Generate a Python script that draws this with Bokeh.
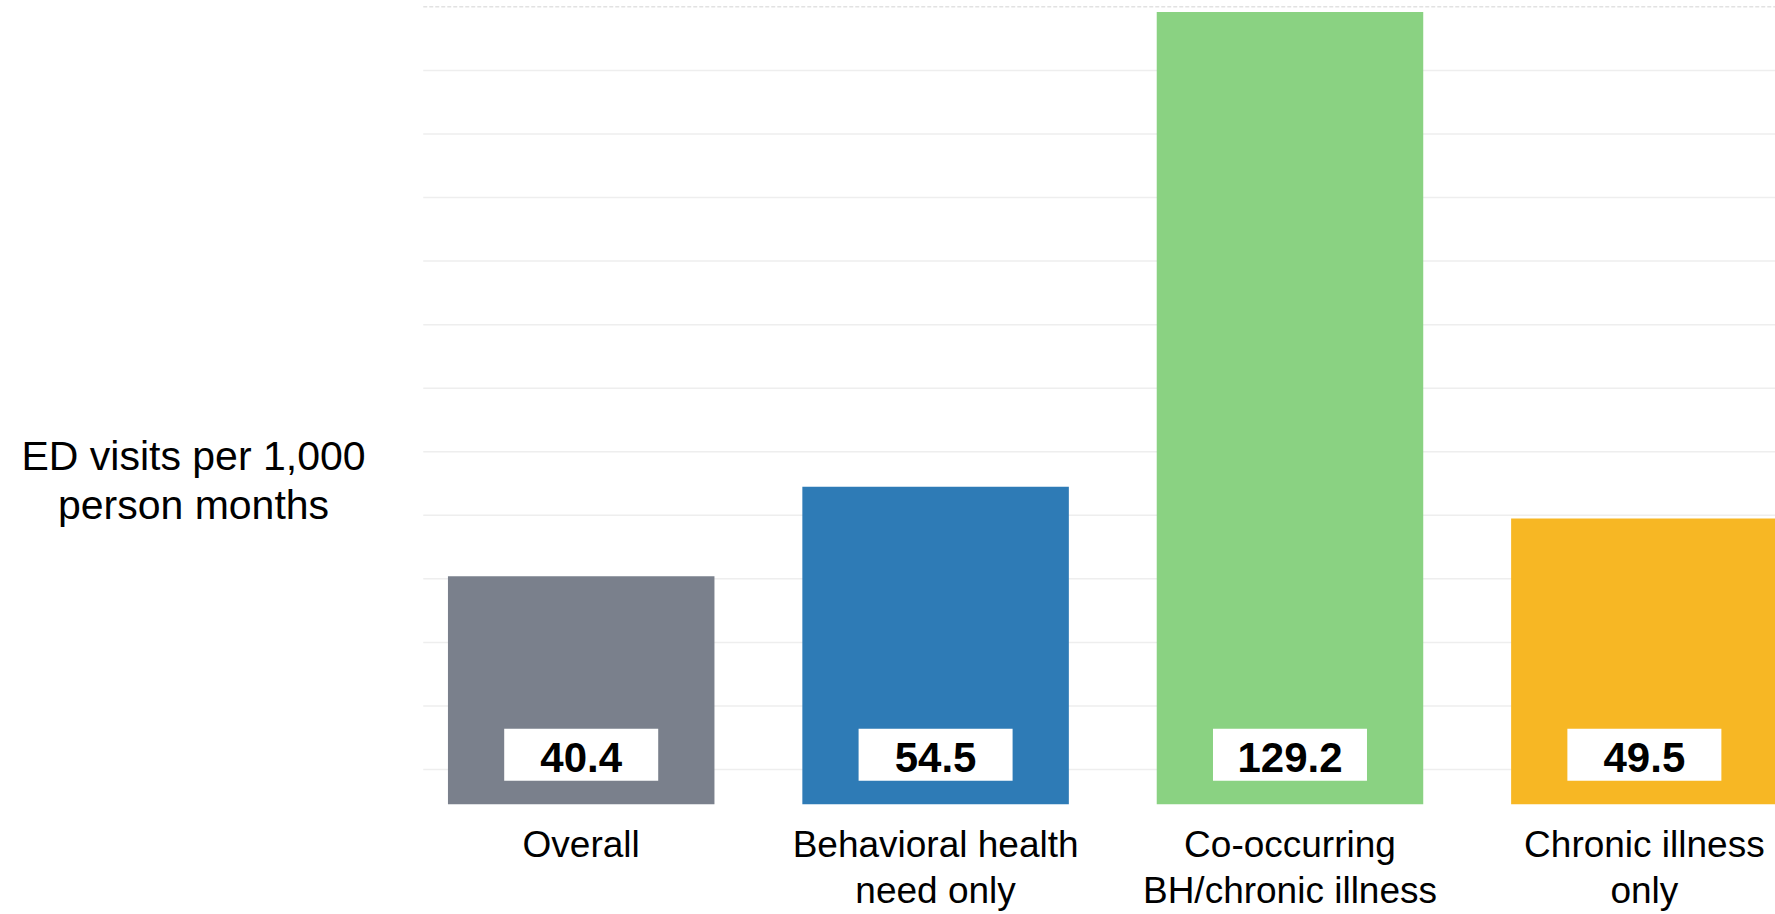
from bokeh.plotting import figure
from bokeh.models import Range1d, Label, ColumnDataSource, FixedTicker
from bokeh.embed import file_html
from bokeh.resources import INLINE
from bokeh.core.properties import value

# ED visits per 1,000 person months, by population group
categories = [
    "Overall",
    "Behavioral health\nneed only",
    "Co-occurring\nBH/chronic illness",
    "Chronic illness\nonly",
]
ed_visits = [40.4, 54.5, 129.2, 49.5]
bar_colors = ["#7a808c", "#2e7bb6", "#8ad282", "#f7b724"]

# light horizontal guide lines (top one drawn dashed)
grid_values = [10, 20, 30, 40, 50, 60, 70, 80, 90, 100, 110, 120]
top_guide = [130]

FONT = "Liberation Sans"

# horizontal extent of the bar area, in category units
X_LEFT, X_RIGHT = -0.4457, 3.370

positions = list(range(len(categories)))
source = ColumnDataSource(data=dict(
    x=positions,
    top=ed_visits,
    color=bar_colors,
    label=[f"{v:.1f}" for v in ed_visits],
))

p = figure(
    width=1775, height=914,
    x_range=Range1d(-1.6386, X_RIGHT),
    y_range=Range1d(4.5, 131.0),
    output_backend="svg",
    toolbar_location=None,
    min_border_left=0, min_border_right=0,
    min_border_top=0, min_border_bottom=107,
)
p.background_fill_color = "white"
p.border_fill_color = "white"
p.outline_line_color = None

p.yaxis.visible = False
p.xgrid.visible = False
p.ygrid.visible = False

# guide lines spanning the bar area only
p.segment(x0=X_LEFT, x1=X_RIGHT, y0=grid_values, y1=grid_values,
          line_color="#eeeeee", line_width=1.5)
p.segment(x0=X_LEFT, x1=X_RIGHT, y0=top_guide, y1=top_guide,
          line_color="#e2e2e2", line_width=1.5, line_dash="4 2")

# bars
p.vbar(x="x", top="top", bottom=0, width=0.752, fill_color="color",
       line_color=None, source=source)

# white value boxes near the bar bottoms
p.rect(x="x", y=12.34, width=154, height=52, width_units="screen",
       height_units="screen", fill_color="white", line_color=None, source=source)
p.text(x="x", y=11.87, text="label", text_align="center", text_baseline="middle",
       text_font=value(FONT), text_font_style="bold", text_font_size="42px",
       text_color="black", source=source)

# category axis
xa = p.xaxis[0]
xa.ticker = FixedTicker(ticks=positions)
xa.major_label_overrides = {i: c for i, c in zip(positions, categories)}
xa.axis_line_color = None
xa.major_tick_line_color = None
xa.minor_tick_line_color = None
xa.major_tick_out = 0
xa.major_tick_in = 0
xa.minor_tick_out = 0
xa.minor_tick_in = 0
xa.major_label_text_font = FONT
xa.major_label_text_font_size = "37px"
xa.major_label_text_color = "black"
xa.major_label_text_line_height = 1.138
xa.major_label_standoff = 19

# value-axis title, written horizontally to the left of the bars
p.add_layout(Label(
    x=-1.094, y=55.43,
    text="ED visits per 1,000\nperson months",
    text_align="center", text_baseline="middle",
    text_font=FONT, text_font_size="41px", text_color="black",
    text_line_height=1.07,
))

open("out.html", "w").write(file_html(p, INLINE))
